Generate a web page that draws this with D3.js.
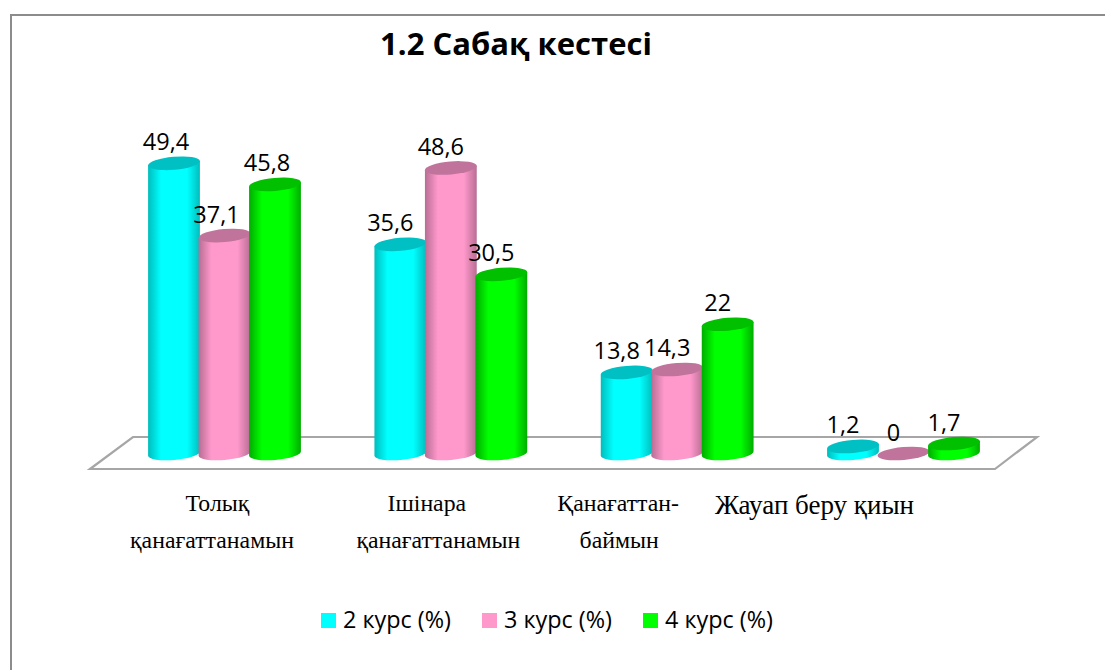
<!DOCTYPE html>
<html>
<head>
<meta charset="utf-8">
<script src="https://cdnjs.cloudflare.com/ajax/libs/d3/7.8.5/d3.min.js"></script>
<style>
html,body{margin:0;padding:0;background:#fff;overflow:hidden}
svg{display:block}
text{fill:#000}
</style>
</head>
<body>
<script>
const titleText = "1.2 Сабақ кестесі";
const categories = [["Толық","қанағаттанамын"],["Ішінара","қанағаттанамын"],["Қанағаттан-","баймын"],["Жауап беру қиын"]];
const seriesNames = ["2 курс (%)","3 курс (%)","4 курс (%)"];
const course2 = [49.4,35.6,13.8,1.2];
const course3 = [37.1,48.6,14.3,0];
const course4 = [45.8,30.5,22,1.7];
const seriesValues = [course2,course3,course4];
const labelTexts = [["49,4","35,6","13,8","1,2"],["37,1","48,6","14,3","0"],["45,8","30,5","22","1,7"]];

// layout and style
const W=1105,H=670;
const sansFont="'Open Sans','Noto Sans',sans-serif";
const palette=[
 {edge:"#00bdbd",mid:"#00ffff",top:"#00c0c4",swatch:"#00ffff"},
 {edge:"#b86d94",mid:"#ff99cc",top:"#c0749c",swatch:"#ff99cc"},
 {edge:"#00ad00",mid:"#00ff00",top:"#00c000",swatch:"#00ff00"}
];
const catLabelDx=[[-7,-12.5],[-24,-12.5],[-59,-58],[-89]];
const rx=26,ry=6.5,tilt=5;
const dxT=rx*Math.cos(tilt*Math.PI/180), dyT=rx*Math.sin(tilt*Math.PI/180);

const svg=d3.select("body").append("svg").attr("width",W).attr("height",H);
const defs=svg.append("defs");
palette.forEach((p,i)=>{
  const g=defs.append("linearGradient").attr("id","bar"+i).attr("x1",0).attr("x2",1).attr("y1",0).attr("y2",0);
  [[0,p.edge],[0.25,p.mid],[0.75,p.mid],[1,p.edge]].forEach(s=>g.append("stop").attr("offset",s[0]).attr("stop-color",s[1]));
});

// chart frame: top and left edges only
svg.append("path").attr("d",`M11,670V15H${W}`).attr("fill","none").attr("stroke","#8c8c8c").attr("stroke-width",2);

const x0=d3.scalePoint().domain(d3.range(categories.length)).range([224.5,903.5]);
const x1=d3.scalePoint().domain(d3.range(seriesNames.length)).range([-50.5,50.5]);
const y=d3.scaleLinear().domain([0,50]).range([453.5,159.75]);

// floor
svg.append("path").attr("d","M90,469L133,437H1037L995,469Z").attr("fill","#fff").attr("stroke","#a6a6a6").attr("stroke-width",2.2).attr("stroke-linejoin","miter");

// bars
const bars=[];
seriesValues.forEach((vals,s)=>vals.forEach((v,c)=>bars.push({s,c,v})));
const gBars=svg.append("g");
bars.sort((a,b)=>a.c-b.c||a.s-b.s);
const bar=gBars.selectAll("g").data(bars).join("g")
  .attr("transform",d=>`translate(${x0(d.c)+x1(d.s)},0)`);
bar.filter(d=>d.v>0).append("path")
  .attr("d",d=>{
    const t=y(d.v),b=y(0);
    return `M${-dxT},${t+dyT}L${-dxT},${b+dyT}A${rx},${ry} ${-tilt} 0 0 ${dxT},${b-dyT}L${dxT},${t-dyT}Z`;
  })
  .attr("fill",d=>`url(#bar${d.s})`);
bar.append("ellipse")
  .attr("rx",rx).attr("ry",ry)
  .attr("transform",d=>`translate(0,${y(d.v)}) rotate(${-tilt})`)
  .attr("fill",d=>palette[d.s].top);

// data labels
svg.append("g").selectAll("text").data(bars).join("text")
  .attr("x",d=>x0(d.c)+x1(d.s)-(d.c===0?8:10))
  .attr("y",d=>y(d.v)-13)
  .attr("text-anchor","middle")
  .attr("font-family",sansFont).attr("font-size",23.5)
  .text(d=>labelTexts[d.s][d.c]);

// title
svg.append("text").attr("x",516).attr("y",55).attr("text-anchor","middle")
  .attr("font-family",sansFont).attr("font-weight",700).attr("font-size",31).text(titleText);

// category labels
const gc=svg.append("g");
categories.forEach((lines,c)=>{
  lines.forEach((line,i)=>{
    gc.append("text")
      .attr("x",x0(c)+catLabelDx[c][i])
      .attr("y",lines.length===1?514:511+i*36.5)
      .attr("text-anchor","middle")
      .attr("font-family","'Liberation Serif',serif")
      .attr("font-size",lines.length===1?27:23.8)
      .text(line);
  });
});

// legend
const legendX=d3.scalePoint().domain(d3.range(seriesNames.length)).range([321,643]);
const lg=svg.append("g").selectAll("g").data(seriesNames).join("g").attr("transform",(d,i)=>`translate(${legendX(i)},613)`);
lg.append("rect").attr("width",15).attr("height",15).attr("fill",(d,i)=>palette[i].swatch);
lg.append("text").attr("x",22).attr("y",15).attr("font-family",sansFont).attr("font-size",23.4).text(d=>d);
</script>
</body>
</html>
